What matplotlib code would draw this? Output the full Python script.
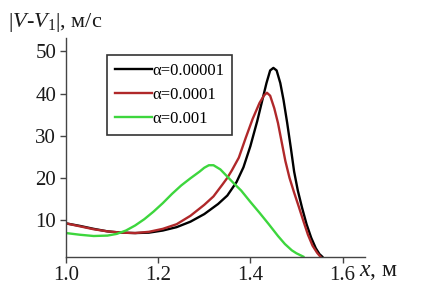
import matplotlib
matplotlib.use("Agg")
import matplotlib.pyplot as plt

plt.rcParams['font.family'] = ['Liberation Serif', 'DejaVu Serif']
plt.rcParams['mathtext.fontset'] = 'custom'
plt.rcParams['mathtext.rm'] = 'Liberation Serif'
plt.rcParams['mathtext.it'] = 'Liberation Serif:italic'

# data
x_black = [1.00, 1.03, 1.06, 1.09, 1.12, 1.15, 1.18, 1.21, 1.24, 1.27, 1.30, 1.33, 1.35, 1.37,
           1.385, 1.40, 1.415, 1.425, 1.435, 1.443, 1.450, 1.457, 1.465, 1.472, 1.48, 1.488,
           1.495, 1.503, 1.512, 1.522, 1.532, 1.542, 1.55, 1.556]
y_black = [9.2, 8.6, 7.9, 7.3, 7.0, 6.9, 7.0, 7.5, 8.3, 9.6, 11.4, 13.8, 15.8, 19.0,
           22.5, 27.5, 33.5, 38.0, 42.5, 45.5, 46.1, 45.5, 42.5, 38.5, 33.0, 27.0,
           21.5, 17.0, 13.0, 9.0, 5.8, 3.3, 1.9, 1.3]
x_red = [1.00, 1.03, 1.06, 1.09, 1.12, 1.15, 1.18, 1.21, 1.24, 1.27, 1.30, 1.32, 1.34, 1.35,
         1.36, 1.375, 1.39, 1.405, 1.42, 1.43, 1.436, 1.443, 1.452, 1.46, 1.468, 1.476,
         1.485, 1.495, 1.505, 1.515, 1.525, 1.535, 1.545, 1.552]
y_red = [9.2, 8.5, 7.8, 7.3, 7.0, 6.9, 7.2, 7.9, 9.0, 11.0, 13.6, 15.6, 18.5, 20.0,
         21.8, 24.8, 29.5, 34.0, 37.8, 39.6, 40.2, 39.5, 36.5, 33.0, 28.5, 24.0,
         20.0, 16.5, 13.2, 9.8, 6.5, 3.9, 2.2, 1.3]
x_green = [1.00, 1.03, 1.06, 1.09, 1.11, 1.13, 1.15, 1.17, 1.19, 1.21, 1.23, 1.25, 1.27, 1.29,
           1.30, 1.31, 1.32, 1.335, 1.35, 1.365, 1.38, 1.40, 1.42, 1.44, 1.46, 1.475, 1.49,
           1.50, 1.515]
y_green = [6.9, 6.5, 6.2, 6.3, 6.7, 7.5, 8.7, 10.2, 12.0, 14.0, 16.2, 18.2, 19.9, 21.5,
           22.4, 23.0, 23.0, 22.0, 20.3, 18.6, 17.0, 14.3, 11.7, 9.0, 6.2, 4.3, 2.8,
           2.1, 1.3]
labels = ['α=0.00001', 'α=0.0001', 'α=0.001']
x_ticks = [1.0, 1.2, 1.4, 1.6]
y_ticks = [10, 20, 30, 40, 50]

fig = plt.figure(figsize=(4.26, 2.90), dpi=100)
ax = fig.add_axes([0.155, 0.115, 0.702, 0.754])

ax.plot(x_black, y_black, color='black', lw=1.7, label=labels[0])
ax.plot(x_red, y_red, color='#b0282a', lw=1.7, label=labels[1])
ax.plot(x_green, y_green, color='#3dd63d', lw=1.7, label=labels[2])

ax.set_xlim(1.0, 1.649)
ax.set_ylim(1.3, 53.2)
ax.set_xticks(x_ticks)
ax.set_xticklabels(['1.0', '1.2', '1.4', '1.6'])
ax.set_yticks(y_ticks)
ax.spines['top'].set_visible(False)
ax.spines['right'].set_visible(False)
for s in ['left', 'bottom']:
    ax.spines[s].set_color('#444444')
    ax.spines[s].set_linewidth(1.0)
ax.tick_params(direction='out', length=4, width=1, colors='#444444', labelcolor='#1a1a1a',
               labelsize=15, pad=3)

leg = ax.legend(loc='upper left', bbox_to_anchor=(0.137, 0.922), borderaxespad=0,
                fontsize=12, handlelength=2.25, handletextpad=0.0, labelspacing=0.5,
                frameon=True, fancybox=False, borderpad=0.45)
leg.get_frame().set_edgecolor('black')
leg.get_frame().set_linewidth(1.2)

fig.text(0.018, 0.924, r'$|V$-$V_{\mathit{1}}|$, м/с', fontsize=16, color='#1a1a1a', va='center')
ax.text(1.045, -0.07, r'$x$, м', transform=ax.transAxes, fontsize=17, color='#1a1a1a',
        va='center', ha='center')

fig.savefig('out.png', dpi=100)
